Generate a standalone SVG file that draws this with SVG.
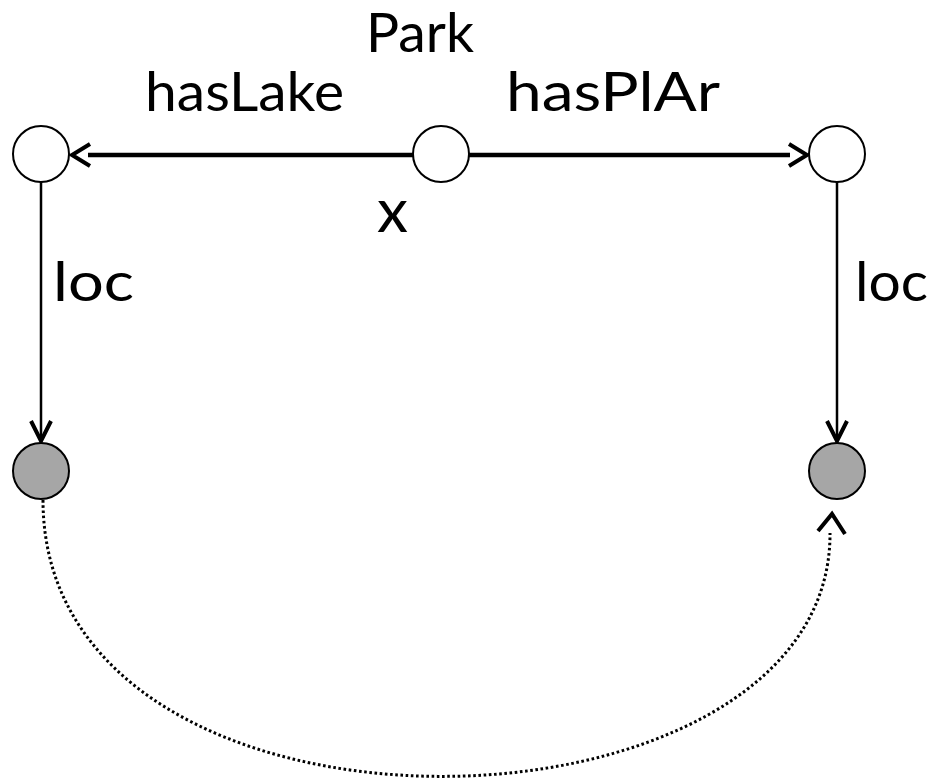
<svg xmlns="http://www.w3.org/2000/svg" width="932" height="780" viewBox="0 0 932 780">
  <style>
    .node { stroke: #000; stroke-width: 2; }
    .open { fill: #fff; }
    .lit { fill: #a6a6a6; }
    .label { font-family: "Lato", "Liberation Sans", sans-serif; font-size: 54px; fill: #000; }
    .var { font-size: 60px; }
    .thick { stroke: #000; stroke-width: 4.5; fill: none; }
    .thin { stroke: #000; stroke-width: 2.5; fill: none; }
    .head { stroke: #000; stroke-width: 4; fill: none; stroke-linejoin: miter; }
    .dotted { stroke: #000; stroke-width: 3; fill: none; stroke-dasharray: 2.6 2.6; }
  </style>

  <g id="connectors">
    <!-- hasLake: x to left node -->
    <line class="thick" x1="413" y1="155" x2="88" y2="155"/>
    <polyline class="head" points="90,144 72,155 90,166"/>
    <!-- hasPlAr: x to right node -->
    <line class="thick" x1="469" y1="155" x2="790" y2="155"/>
    <polyline class="head" points="789,144 807,155 789,166"/>
    <!-- loc edges -->
    <line class="thin" x1="41" y1="182" x2="41" y2="440"/>
    <polyline class="head" points="31,421 41,441 51,421"/>
    <line class="thin" x1="837" y1="182" x2="837" y2="440"/>
    <polyline class="head" points="827,421 837,441 847,421"/>
    <!-- dotted relation between the two locations -->
    <path class="dotted" d="M43,500 C43,874 832,852 830,533"/>
    <polyline class="head" points="818,531 832,514 845,534"/>
  </g>

  <g id="node-x">
    <circle class="node open" cx="441" cy="154" r="28"/>
  </g>
  <g id="node-lake">
    <circle class="node open" cx="41" cy="154" r="28"/>
  </g>
  <g id="node-plar">
    <circle class="node open" cx="837" cy="154" r="28"/>
  </g>
  <g id="node-loc-lake">
    <circle class="node lit" cx="41" cy="471" r="28"/>
  </g>
  <g id="node-loc-plar">
    <circle class="node lit" cx="837" cy="471" r="28"/>
  </g>

  <g id="labels">
    <text class="label" x="366" y="52" textLength="108" lengthAdjust="spacingAndGlyphs">Park</text>
    <text class="label" x="145" y="111" textLength="199" lengthAdjust="spacingAndGlyphs">hasLake</text>
    <text class="label" x="506" y="111" textLength="214" lengthAdjust="spacingAndGlyphs">hasPlAr</text>
    <text class="label var" x="377" y="232" textLength="31" lengthAdjust="spacingAndGlyphs">x</text>
    <text class="label" x="53" y="301" textLength="81" lengthAdjust="spacingAndGlyphs">loc</text>
    <text class="label" x="855" y="301" textLength="73" lengthAdjust="spacingAndGlyphs">loc</text>
  </g>
</svg>
